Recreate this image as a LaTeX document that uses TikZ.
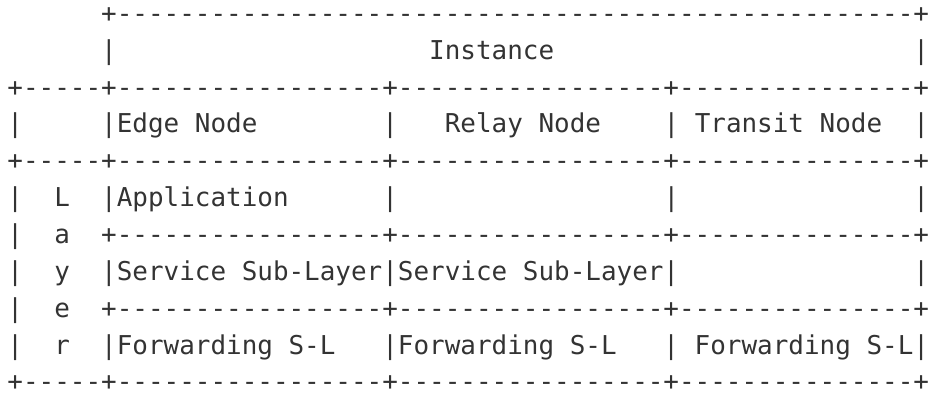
\documentclass[tikz,border=0pt]{standalone}
\usepackage{fontspec}
\setmonofont{DejaVu Sans Mono}
\definecolor{asciiink}{HTML}{333333}
% runs of blanks and dashes, one character cell each
\newcommand\blank[1]{\hspace*{#1\fontcharwd\font`0}}
\newcommand\dl[1]{\foreach\k in {1,...,#1}{-}}
\begin{document}
\begin{tikzpicture}[x=0.75pt,y=-0.75pt,
    row/.style={anchor=base west,inner sep=0pt,text=asciiink,
      font=\ttfamily\fontsize{19.46pt}{23pt}\selectfont}]
    \useasboundingbox (0,0) rectangle (929,394);
    \node[row] (row1) at (7.2,22.4) {\blank{6}+\dl{51}+};
    \node[row] (row2) at (7.2,59.2) {\blank{6}|\blank{20}Instance\blank{23}|};
    \node[row] (row3) at (7.2,96.1) {+\dl{5}+\dl{17}+\dl{17}+\dl{15}+};
    \node[row] (row4) at (7.2,132.9) {|\blank{5}|Edge Node\blank{8}|\blank{3}Relay Node\blank{4}| Transit Node\blank{2}|};
    \node[row] (row5) at (7.2,169.8) {+\dl{5}+\dl{17}+\dl{17}+\dl{15}+};
    \node[row] (row6) at (7.2,206.6) {|\blank{2}L\blank{2}|Application\blank{6}|\blank{17}|\blank{15}|};
    \node[row] (row7) at (7.2,243.4) {|\blank{2}a\blank{2}+\dl{17}+\dl{17}+\dl{15}+};
    \node[row] (row8) at (7.2,280.3) {|\blank{2}y\blank{2}|Service Sub-Layer|Service Sub-Layer|\blank{15}|};
    \node[row] (row9) at (7.2,317.1) {|\blank{2}e\blank{2}+\dl{17}+\dl{17}+\dl{15}+};
    \node[row] (row10) at (7.2,354.0) {|\blank{2}r\blank{2}|Forwarding S-L\blank{3}|Forwarding S-L\blank{3}| Forwarding S-L|};
    \node[row] (row11) at (7.2,390.8) {+\dl{5}+\dl{17}+\dl{17}+\dl{15}+};
\end{tikzpicture}
\end{document}
